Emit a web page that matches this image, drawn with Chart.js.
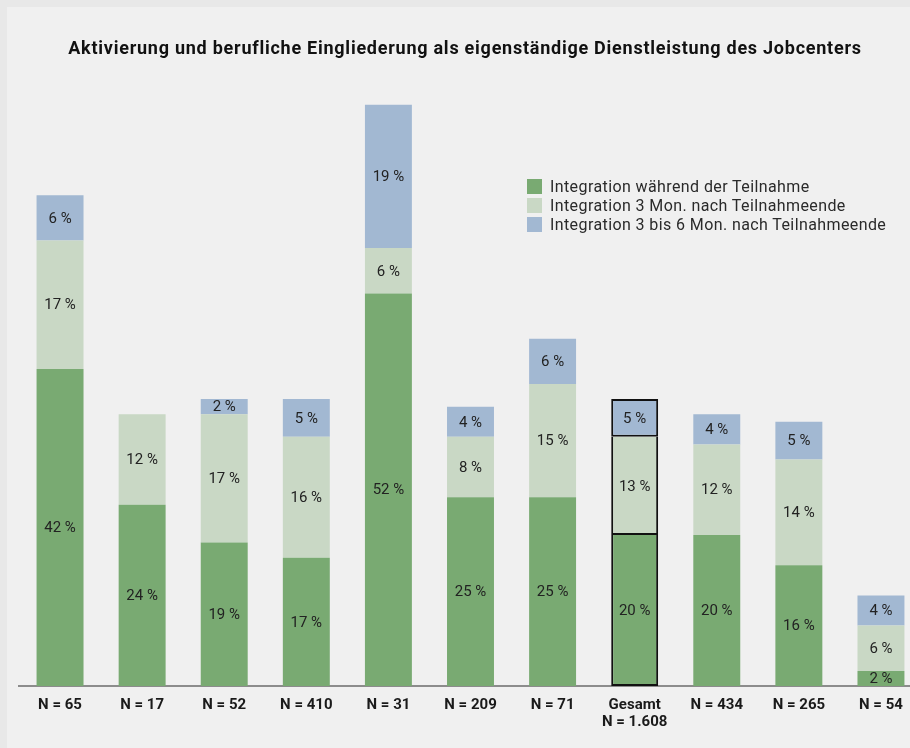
<!DOCTYPE html>
<html>
<head>
<meta charset="utf-8">
<script src="https://cdn.jsdelivr.net/npm/chart.js@4.4.1/dist/chart.umd.min.js"></script>
<style>
  html, body { margin:0; padding:0; width:910px; height:748px; overflow:hidden; background:#e8e8e8; }
  #panel { position:absolute; left:7px; top:7px; right:0; bottom:0; background:#f0f0f0; }
  #wrap { position:absolute; left:0; top:0; width:930px; height:748px; }
  #legend { position:absolute; left:527px; top:179px; font-family:Roboto, sans-serif; font-size:16px; color:#2a2a2a; letter-spacing:0.4px; }
  #legend div { height:19px; line-height:15px; display:flex; align-items:flex-start; }
  #legend span.box { display:inline-block; width:15px; height:15px; margin-right:8px; flex:none; }
</style>
</head>
<body>
<div id="panel"></div>
<div id="wrap"><canvas id="myCan" width="930" height="748"></canvas></div>
<div id="legend"></div>
<script>
var chartTitle = 'Aktivierung und berufliche Eingliederung als eigenständige Dienstleistung des Jobcenters';
var categories = [['N = 65'], ['N = 17'], ['N = 52'], ['N = 410'], ['N = 31'], ['N = 209'], ['N = 71'], ['Gesamt', 'N = 1.608'], ['N = 434'], ['N = 265'], ['N = 54']];
var seriesNames = ['Integration während der Teilnahme', 'Integration 3 Mon. nach Teilnahmeende', 'Integration 3 bis 6 Mon. nach Teilnahmeende'];
var during = [42, 24, 19, 17, 52, 25, 25, 20, 20, 16, 2];
var after3 = [17, 12, 17, 16, 6, 8, 15, 13, 12, 14, 6];
var after3to6 = [6, 0, 2, 5, 19, 4, 6, 5, 4, 5, 4];
var colors = ['#79aa72', '#c9d8c5', '#a2b8d2'];
var totalIndex = 7;

// nur die Gesamt-Säule bekommt einen schwarzen Rahmen
function totalBorder(c) {
  if (c.dataIndex !== totalIndex) return 0;
  return { left: 2, right: 2, top: c.datasetIndex === 2 ? 2 : 0, bottom: 2 };
}

function makeSet(i, data) {
  return {
    label: seriesNames[i],
    data: data,
    backgroundColor: colors[i],
    borderColor: '#111',
    borderWidth: totalBorder,
    borderSkipped: false,
    categoryPercentage: 1,
    barPercentage: 0.572
  };
}

// Prozentwerte mittig in die Segmente schreiben
var valueLabels = {
  id: 'valueLabels',
  afterDatasetsDraw: function (chart) {
    var ctx = chart.ctx;
    ctx.save();
    ctx.font = '15px Roboto, sans-serif';
    ctx.fillStyle = '#222';
    ctx.textAlign = 'center';
    ctx.textBaseline = 'middle';
    chart.data.datasets.forEach(function (ds, d) {
      chart.getDatasetMeta(d).data.forEach(function (bar, i) {
        if (!ds.data[i]) return;
        ctx.fillText(ds.data[i] + ' %', bar.x, (bar.y + bar.base) / 2 + 1);
      });
    });
    ctx.restore();
  }
};

var drawTitle = {
  id: 'drawTitle',
  afterDraw: function (chart) {
    var ctx = chart.ctx;
    ctx.save();
    ctx.font = 'bold 18px Roboto, sans-serif';
    if ('letterSpacing' in ctx) ctx.letterSpacing = '0.75px';
    ctx.fillStyle = '#111';
    ctx.textAlign = 'center';
    ctx.textBaseline = 'middle';
    ctx.fillText(chartTitle, 465, 49);
    ctx.restore();
  }
};

var ctxx = document.getElementById('myCan').getContext('2d');
var xChart = new Chart(ctxx, {
  type: 'bar',
  data: {
    labels: categories,
    datasets: [makeSet(0, during), makeSet(1, after3), makeSet(2, after3to6)]
  },
  options: {
    responsive: false,
    animation: false,
    layout: { padding: { left: 19, right: 8, top: 82, bottom: 15 } },
    plugins: {
      legend: { display: false },
      title: { display: false },
      tooltip: { enabled: false }
    },
    scales: {
      x: {
        stacked: true,
        grid: { display: false },
        border: { color: '#8c8c8c', width: 2 },
        ticks: {
          color: '#1a1a1a',
          padding: 3,
          maxRotation: 0,
          autoSkip: false,
          font: { family: 'Roboto, sans-serif', size: 15, weight: 'bold', lineHeight: 1.1 }
        }
      },
      y: {
        stacked: true,
        display: false,
        min: 0,
        max: 80
      }
    }
  },
  plugins: [valueLabels, drawTitle]
});

var legend = document.getElementById('legend');
xChart.data.datasets.forEach(function (ds) {
  var row = document.createElement('div');
  row.innerHTML = '<span class="box" style="background:' + ds.backgroundColor + '"></span>' + ds.label;
  legend.appendChild(row);
});
</script>
</body>
</html>
